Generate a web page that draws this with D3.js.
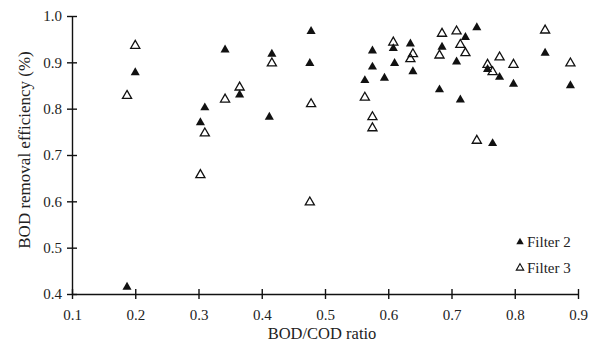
<!DOCTYPE html>
<html>
<head>
<meta charset="utf-8">
<script src="https://cdn.jsdelivr.net/npm/d3@7"></script>
<style>
  body { margin: 0; background: #fff; }
  text { font-family: "Liberation Serif", "DejaVu Serif", serif; fill: #222; }
</style>
</head>
<body>
<div id="chart"></div>
<script>
// data
var filter2X = [0.187, 0.200, 0.303, 0.310, 0.342, 0.365, 0.412, 0.416, 0.476, 0.478,
                0.563, 0.575, 0.575, 0.594, 0.608, 0.610, 0.635, 0.639, 0.681, 0.685,
                0.708, 0.714, 0.722, 0.740, 0.757, 0.765, 0.776, 0.798, 0.848, 0.888];
var filter2Y = [0.415, 0.878, 0.770, 0.802, 0.927, 0.830, 0.782, 0.918, 0.898, 0.967,
                0.861, 0.890, 0.925, 0.866, 0.930, 0.898, 0.940, 0.880, 0.841, 0.933,
                0.901, 0.819, 0.954, 0.975, 0.885, 0.725, 0.868, 0.853, 0.920, 0.850];

var filter3X = [0.187, 0.200, 0.303, 0.310, 0.342, 0.365, 0.416, 0.476, 0.478, 0.563,
                0.575, 0.575, 0.608, 0.635, 0.639, 0.681, 0.685, 0.708, 0.714, 0.722,
                0.740, 0.757, 0.765, 0.776, 0.798, 0.848, 0.888];
var filter3Y = [0.828, 0.936, 0.657, 0.747, 0.820, 0.846, 0.898, 0.598, 0.810, 0.824,
                0.782, 0.758, 0.943, 0.907, 0.918, 0.915, 0.962, 0.967, 0.938, 0.920,
                0.731, 0.895, 0.879, 0.911, 0.895, 0.969, 0.898];

var xTicks = [0.1, 0.2, 0.3, 0.4, 0.5, 0.6, 0.7, 0.8, 0.9];
var yTicks = [0.4, 0.5, 0.6, 0.7, 0.8, 0.9, 1.0];
var seriesNames = ["Filter 2", "Filter 3"];

var width = 598, height = 343;
var margin = {top: 16, right: 20, bottom: 49, left: 72};

var svg = d3.select("#chart")
  .append("svg")
  .attr("width", width)
  .attr("height", height);

var x = d3.scaleLinear().domain([0.1, 0.9]).range([margin.left, width - margin.right]);
var y = d3.scaleLinear().domain([0.4, 1.0]).range([height - margin.bottom, margin.top]);

// axes, ticks cross the line
var xAxis = svg.append("g")
  .attr("transform", "translate(0," + y(0.4) + ")")
  .call(d3.axisBottom(x).tickValues(xTicks).tickFormat(d3.format(".1f")).tickSize(5).tickPadding(10).tickSizeOuter(0));
xAxis.selectAll(".tick line").attr("y1", -5);

var yAxis = svg.append("g")
  .attr("transform", "translate(" + x(0.1) + ",0)")
  .call(d3.axisLeft(y).tickValues(yTicks).tickFormat(d3.format(".1f")).tickSize(5).tickPadding(5).tickSizeOuter(0));
yAxis.selectAll(".tick line").attr("x1", 5);

svg.selectAll(".domain, .tick line").attr("stroke", "#111").attr("stroke-width", 1.4);
svg.selectAll(".tick text").attr("font-size", 15).attr("fill", "#222")
  .style("font-family", "'Liberation Serif', serif");

// axis titles
svg.append("text")
  .attr("x", 322).attr("y", 339)
  .attr("text-anchor", "middle")
  .attr("font-size", 16.5)
  .text("BOD/COD ratio");

svg.append("text")
  .attr("transform", "translate(30,150) rotate(-90)")
  .attr("text-anchor", "middle")
  .attr("font-size", 17)
  .text("BOD removal efficiency (%)");

var tri = d3.symbol().type(d3.symbolTriangle).size(36);

svg.append("g").selectAll("path")
  .data(d3.range(filter2X.length))
  .enter().append("path")
    .attr("d", tri)
    .attr("transform", function(i) { return "translate(" + x(filter2X[i]) + "," + y(filter2Y[i]) + ")"; })
    .attr("fill", "#111");

svg.append("g").selectAll("path")
  .data(d3.range(filter3X.length))
  .enter().append("path")
    .attr("d", tri)
    .attr("transform", function(i) { return "translate(" + x(filter3X[i]) + "," + y(filter3Y[i]) + ")"; })
    .attr("fill", "none")
    .attr("stroke", "#111")
    .attr("stroke-width", 1.3);

// legend
var legend = svg.append("g").selectAll("g")
  .data(seriesNames)
  .enter().append("g")
    .attr("transform", function(d, i) { return "translate(520," + (242 + i * 26) + ")"; });

legend.append("path")
  .attr("d", d3.symbol().type(d3.symbolTriangle).size(24))
  .attr("fill", function(d, i) { return i == 0 ? "#111" : "none"; })
  .attr("stroke", function(d, i) { return i == 0 ? "none" : "#111"; })
  .attr("stroke-width", 1.1);

legend.append("text")
  .attr("x", 7).attr("y", 5)
  .attr("font-size", 15)
  .text(function(d) { return d; });
</script>
</body>
</html>
